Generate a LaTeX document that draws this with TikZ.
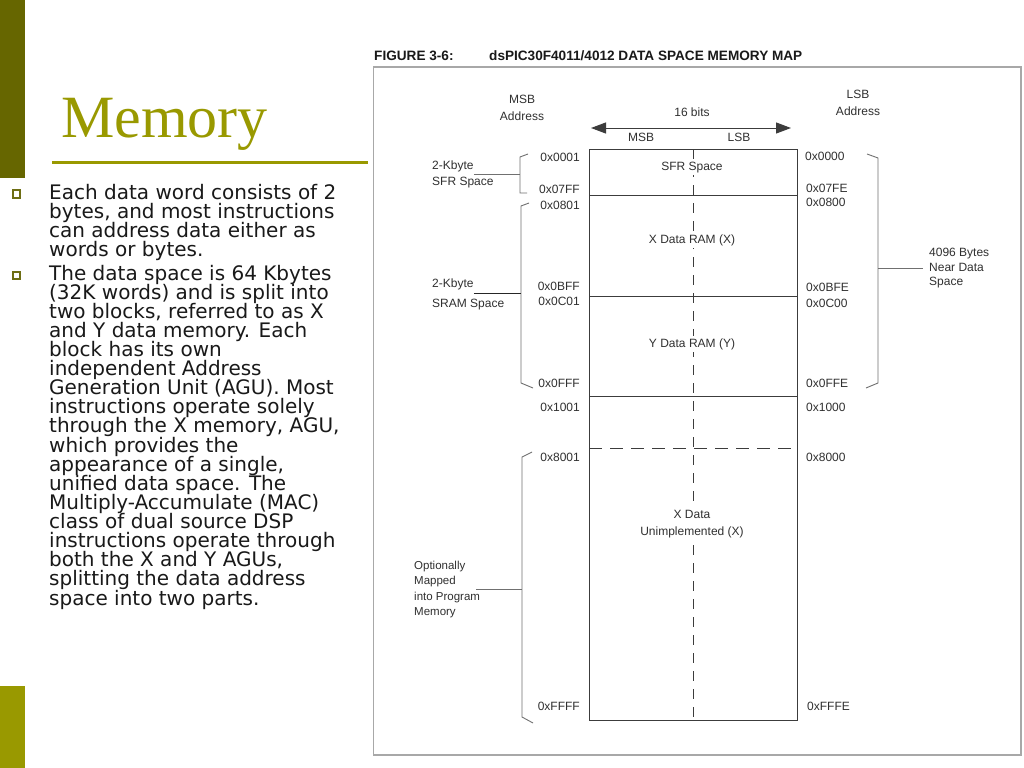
\documentclass[tikz,border=0pt]{standalone}
\usepackage{fontspec}
\setmainfont{Liberation Sans}
\newfontfamily\titlefont{Liberation Serif}
\newfontfamily\bodyfont{DejaVu Sans}
\usetikzlibrary{arrows.meta}
\definecolor{olivedark}{HTML}{666600}
\definecolor{olivelight}{HTML}{999900}
\definecolor{bulletcol}{HTML}{6E6E14}
\definecolor{figline}{HTML}{3C3C3C}
\definecolor{figtext}{HTML}{303030}
\definecolor{bracketcol}{HTML}{707070}
\definecolor{framegray}{HTML}{A8A8A8}
\begin{document}
\begin{tikzpicture}[x=1bp,y=-1bp,
  figlabel/.style={font=\fontsize{12bp}{14bp}\selectfont, text=figtext, inner sep=0pt},
  figaddrL/.style={figlabel, anchor=east},
  figaddrR/.style={figlabel, anchor=west},
  figleft/.style={figlabel, anchor=west},
  inlabel/.style={figlabel, fill=white, inner xsep=1bp, inner ysep=2bp},
  bodyline/.style={anchor=base west, inner sep=0pt, font=\bodyfont\fontsize{20bp}{19bp}\selectfont, text=black!90},
  bulletbox/.style={draw=bulletcol, line width=1.8bp, fill=white, minimum size=7.5bp, inner sep=0pt},
  memline/.style={draw=figline, line width=1bp},
  bracket/.style={draw=bracketcol, line width=0.9bp},
  figtitle/.style={anchor=base west, inner sep=0pt, font=\bfseries\fontsize{13.6bp}{15bp}\selectfont, text=black!90}
]
\useasboundingbox (0,0) rectangle (1024,768);
\fill[white] (0,0) rectangle (1024,768);
% side bars
\fill[olivedark] (0,0) rectangle (25,178);
\fill[olivelight] (0,686) rectangle (25,768);
% title
\node[anchor=base west, inner sep=0pt, font=\titlefont\fontsize{60bp}{60bp}\selectfont, text=olivelight] (title) at (61,137) {Memory};
\draw[olivelight, line width=3bp] (52,162) -- (368,162);
% bullets
\node[bulletbox] (bu1) at (16.5,194) {};
\node[bulletbox] (bu2) at (16.5,275.5) {};
\foreach \t [count=\i] in {Each data word consists of 2,{bytes, and most instructions},can address data either as,words or bytes.}
  \node[bodyline] (ba\i) at (49,{199+19*(\i-1)}) {\t};
\foreach \t [count=\i] in {The data space is 64 Kbytes,(32K words) and is split into,{two blocks, referred to as X},and Y data memory. Each,block has its own,independent Address,Generation Unit (AGU). Most,instructions operate solely,{through the X memory, AGU,},which provides the,{appearance of a single,},unified data space. The,Multiply-Accumulate (MAC),class of dual source DSP,instructions operate through,{both the X and Y AGUs,},splitting the data address,space into two parts.}
  \node[bodyline] (bb\i) at (49,{280+19.12*(\i-1)}) {\t};
% figure title and frame
\node[figtitle] (fignum) at (374,61) {FIGURE 3-6:};
\node[figtitle] (figname) at (489,61) {dsPIC30F4011/4012 DATA SPACE MEMORY MAP};
\draw[framegray, line width=1.2bp] (373.5,67) rectangle (1021,755);
% memory block
\draw[memline, dash pattern=on 10bp off 8bp] (693,149) -- (693,720);
\draw[memline] (589,149) rectangle (797,720);
\draw[memline] (589,195) -- (797,195);
\draw[memline] (589,296) -- (797,296);
\draw[memline] (589,396.5) -- (797,396.5);
\draw[memline, dash pattern=on 13bp off 8bp] (589,448.5) -- (797,448.5);
\node[inlabel] (sfr) at (692,168) {SFR Space};
\node[inlabel] (xram) at (692,240) {X Data RAM (X)};
\node[inlabel] (yram) at (692,344) {Y Data RAM (Y)};
\node[inlabel, align=center, font=\fontsize{12bp}{17bp}\selectfont] (xun) at (692,524.5) {X Data\\Unimplemented (X)};
% header
\node[figlabel, align=center, font=\fontsize{12bp}{17bp}\selectfont] (msba) at (522,108) {MSB\\Address};
\node[figlabel, align=center, font=\fontsize{12bp}{17bp}\selectfont] (lsba) at (858,102.5) {LSB\\Address};
\node[figlabel] (bits) at (692,112) {16 bits};
\coordinate (arL) at (591,128);
\coordinate (arR) at (791,128);
\draw[memline, {Triangle[length=15bp,width=11bp]}-{Triangle[length=15bp,width=11bp]}] (arL) -- (arR);
\node[figlabel] (msb) at (641,137.5) {MSB};
\node[figlabel] (lsb) at (739,137.5) {LSB};
% left addresses
\node[figaddrL] (a1) at (580,157) {0x0001};
\node[figaddrL] (a2) at (580,189) {0x07FF};
\node[figaddrL] (a3) at (580,205) {0x0801};
\node[figaddrL] (a4) at (580,286) {0x0BFF};
\node[figaddrL] (a5) at (580,301) {0x0C01};
\node[figaddrL] (a6) at (580,383) {0x0FFF};
\node[figaddrL] (a7) at (580,407) {0x1001};
\node[figaddrL] (a8) at (580,457) {0x8001};
\node[figaddrL] (a9) at (580,706) {0xFFFF};
% right addresses
\node[figaddrR] (r1) at (805,156) {0x0000};
\node[figaddrR] (r2) at (806,188) {0x07FE};
\node[figaddrR] (r3) at (806,202) {0x0800};
\node[figaddrR] (r4) at (806,287) {0x0BFE};
\node[figaddrR] (r5) at (806,303) {0x0C00};
\node[figaddrR] (r6) at (806,383) {0x0FFE};
\node[figaddrR] (r7) at (806,407) {0x1000};
\node[figaddrR] (r8) at (806,457) {0x8000};
\node[figaddrR] (r9) at (807,706) {0xFFFE};
% left bracket labels
\node[figleft] (kb1) at (432,166) {2-Kbyte};
\node[figleft] (sfrsp) at (432,183) {SFR Space};
\node[figleft] (kb2) at (432,284) {2-Kbyte};
\node[figleft] (sramsp) at (432,305) {SRAM Space};
\node[figleft, align=left, font=\fontsize{11.5bp}{15.5bp}\selectfont] (optmap) at (414,589.5) {Optionally\\Mapped\\into Program\\Memory};
% SFR bracket
\coordinate (b1t) at (528,154);
\coordinate (b1b) at (527,193);
\coordinate (b1m) at (520,174);
\draw[bracket] (b1t) -- (520,157) -- (520,193) -- (b1b);
\draw[bracket] (b1m -| kb1.east) -- (b1m);
% SRAM bracket
\coordinate (b2t) at (529,203);
\coordinate (b2b) at (533,388);
\coordinate (b2m) at (521,293);
\draw[bracket] (b2t) -- (521,206) -- (521,383) -- (b2b);
\draw[draw=black!85, line width=1bp] (b2m -| kb2.east) -- (b2m);
% program memory bracket
\coordinate (b3t) at (532,452);
\coordinate (b3b) at (533,723);
\coordinate (b3m) at (522,589.5);
\coordinate (b3s) at (476,589.5);
\draw[bracket] (b3t) -- (522,457) -- (522,717) -- (b3b);
\draw[bracket] (b3s) -- (b3m);
% right bracket
\node[figleft, align=left, font=\fontsize{12bp}{14.5bp}\selectfont] (near) at (929,268.5) {4096 Bytes\\Near Data\\Space};
\coordinate (b4t) at (867,154);
\coordinate (b4b) at (866,388);
\coordinate (b4m) at (878,268);
\coordinate (b4e) at (923,268);
\draw[bracket] (b4t) -- (878,158) -- (878,383) -- (b4b);
\draw[bracket] (b4m) -- (b4e);
\end{tikzpicture}
\end{document}
